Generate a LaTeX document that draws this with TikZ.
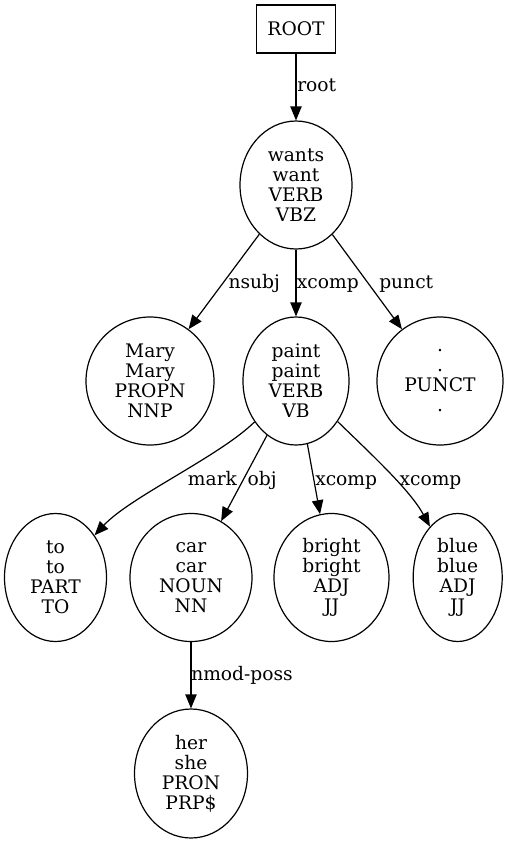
\documentclass[tikz,border=0pt]{standalone}
\usepackage{fontspec}
\setmainfont{DejaVu Serif}
\usetikzlibrary{shapes.geometric,arrows.meta}
\begin{document}
\begin{tikzpicture}[x=0.75pt,y=-0.75pt,
  txt/.style={font=\fontsize{14}{15}\selectfont},
  tok/.style={txt,ellipse,draw,line width=0.9pt,inner sep=0pt,align=center,minimum height=96pt},
  rootbox/.style={txt,rectangle,draw,line width=0.9pt,inner sep=0pt,minimum width=59.25pt,minimum height=36pt},
  lbl/.style={txt,anchor=base west,inner sep=0pt},
  dep/.style={line width=0.9pt,-{Triangle[length=10.5pt,width=8.5pt]}}]
\useasboundingbox (0,0) rectangle (511,844);
\node[rootbox] (root) at (296,29) {ROOT};
\node[tok,minimum width=84pt] (wants) at (296,185) {wants\\want\\VERB\\VBZ};
\node[tok,minimum width=96pt] (mary) at (150,381) {Mary\\Mary\\PROPN\\NNP};
\node[tok,minimum width=79.5pt] (paint) at (296,381) {paint\\paint\\VERB\\VB};
\node[tok,minimum width=94.5pt] (punct) at (440,381) {.\\.\\PUNCT\\.};
\node[tok,minimum width=76.5pt] (to) at (55.5,577.5) {to\\to\\PART\\TO};
\node[tok,minimum width=91.5pt] (car) at (191,577.5) {car\\car\\NOUN\\NN};
\node[tok,minimum width=86.25pt] (bright) at (331.5,577.5) {bright\\bright\\ADJ\\JJ};
\node[tok,minimum width=66.75pt] (blue) at (457.7,577.5) {blue\\blue\\ADJ\\JJ};
\node[tok,minimum width=84.75pt,minimum height=96.75pt] (her) at (191,773.5) {her\\she\\PRON\\PRP\$};
\draw[dep] (root) -- (wants);
\draw[dep] (wants) -- (mary);
\draw[dep] (wants) -- (paint);
\draw[dep] (wants) -- (punct);
\draw[dep] (paint) .. controls (220,456) and (130,497) .. (to);
\draw[dep] (paint) -- (car);
\draw[dep] (paint) -- (bright);
\draw[dep] (paint) .. controls (372,455) and (410,490) .. (blue);
\draw[dep] (car) -- (her);
\node[lbl] (lroot) at (297,91.7) {root};
\node[lbl] (lnsubj) at (228.3,288.3) {nsubj};
\node[lbl] (lxcomp1) at (296.7,288.3) {xcomp};
\node[lbl] (lpunct) at (379,288.3) {punct};
\node[lbl] (lmark) at (187.7,485) {mark};
\node[lbl] (lobj) at (247.3,485) {obj};
\node[lbl] (lxcomp2) at (315,485) {xcomp};
\node[lbl] (lxcomp3) at (399.3,485) {xcomp};
\node[lbl] (lnmod) at (191,680.7) {nmod-poss};
\end{tikzpicture}
\end{document}
